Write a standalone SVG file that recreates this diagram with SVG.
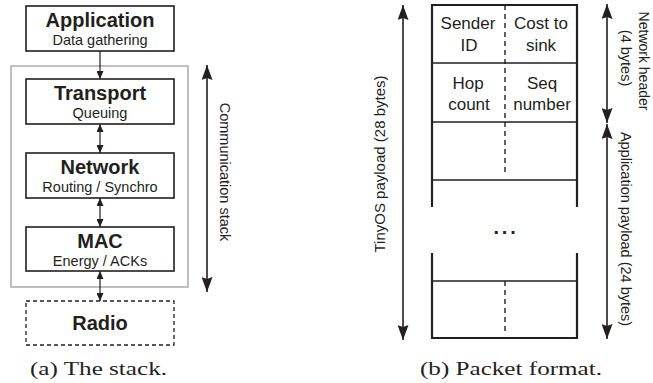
<svg xmlns="http://www.w3.org/2000/svg" width="653" height="383" viewBox="0 0 653 383">
<style>
.box{fill:#fff;stroke:#231f20;stroke-width:1.6}
.dbox{fill:#fff;stroke:#231f20;stroke-width:1.3;stroke-dasharray:4 3}
.frame{fill:none;stroke:#b0b0b0;stroke-width:1.6}
.t{font-family:"Liberation Sans",Arial,sans-serif;fill:#231f20;text-anchor:middle}
.h{font-size:20px;font-weight:bold}
.s{font-size:14.5px}
.p{font-size:17px}
.cap{font-family:"Liberation Serif","Times New Roman",serif;font-size:18px;fill:#231f20}
.sa{stroke:#231f20;stroke-width:1.2;fill:none}
.ba{stroke:#231f20;stroke-width:1.6;fill:none}
.pk{stroke:#231f20;stroke-width:2.2;fill:none}
.row{stroke:#231f20;stroke-width:1.5;fill:none}
.dash{stroke:#231f20;stroke-width:1.4;stroke-dasharray:5 4;fill:none}
</style>
<defs>
<marker id="sm" markerUnits="userSpaceOnUse" markerWidth="8" markerHeight="7" refX="8" refY="3.5" orient="auto-start-reverse">
<path d="M0,0 L8,3.5 L0,7 Z" fill="#231f20"/>
</marker>
<marker id="bg" markerUnits="userSpaceOnUse" markerWidth="15" markerHeight="11" refX="15" refY="5.5" orient="auto-start-reverse">
<path d="M0,0 L15,5.5 L0,11 L2,5.5 Z" fill="#231f20"/>
</marker>
</defs>

<rect class="frame" x="11" y="66" width="177" height="221"/>

<g id="application">
<rect class="box" x="26" y="6" width="148" height="45"/>
<text class="t h" x="100" y="26.5">Application</text>
<text class="t s" x="100" y="45">Data gathering</text>
</g>
<g id="transport">
<rect class="box" x="26" y="79" width="148" height="45"/>
<text class="t h" x="100" y="99.5">Transport</text>
<text class="t s" x="100" y="118">Queuing</text>
</g>
<g id="network">
<rect class="box" x="26" y="153" width="148" height="45"/>
<text class="t h" x="100" y="173.5">Network</text>
<text class="t s" x="100" y="192">Routing / Synchro</text>
</g>
<g id="mac">
<rect class="box" x="26" y="227" width="148" height="44"/>
<text class="t h" x="100" y="247.5">MAC</text>
<text class="t s" x="100" y="266">Energy / ACKs</text>
</g>
<g id="radio">
<rect class="dbox" x="26" y="301" width="148" height="44"/>
<text class="t h" x="100" y="330">Radio</text>
</g>

<g id="connectors">
<line class="sa" x1="100" y1="51" x2="100" y2="79" marker-end="url(#sm)"/>
<line class="sa" x1="100" y1="124" x2="100" y2="153" marker-start="url(#sm)" marker-end="url(#sm)"/>
<line class="sa" x1="100" y1="198" x2="100" y2="227" marker-start="url(#sm)" marker-end="url(#sm)"/>
<line class="sa" x1="100" y1="271" x2="100" y2="301" marker-start="url(#sm)" marker-end="url(#sm)"/>
<line class="ba" x1="207" y1="65" x2="207" y2="292" marker-start="url(#bg)" marker-end="url(#bg)"/>
<line class="ba" x1="403" y1="5" x2="403" y2="340" marker-start="url(#bg)" marker-end="url(#bg)"/>
<line class="ba" x1="607" y1="4" x2="607" y2="123" marker-start="url(#bg)" marker-end="url(#bg)"/>
<line class="ba" x1="607" y1="124" x2="607" y2="339" marker-start="url(#bg)" marker-end="url(#bg)"/>
</g>

<text class="t s" transform="translate(220,172) rotate(90)">Communication stack</text>
<text class="t" style="font-size:15px" transform="translate(385,164) rotate(-90)">TinyOS payload (28 bytes)</text>
<text class="t" style="font-size:14px" transform="translate(639,61) rotate(90)">Network header</text>
<text class="t s" transform="translate(621,58) rotate(90)">(4 bytes)</text>
<text class="t s" transform="translate(621,229) rotate(90)">Application payload (24 bytes)</text>

<g id="packet">
<path class="pk" d="M432,207 V5 H577 V207 M432,253 V338 H577 V253"/>
<path class="row" d="M432,63 H577 M432,122 H577 M432,180 H577 M432,281 H577"/>
<path class="dash" d="M505,5 V173 M505,281 V333"/>
<text class="t p" x="468" y="29">Sender</text>
<text class="t p" x="469" y="51">ID</text>
<text class="t p" x="541" y="29">Cost to</text>
<text class="t p" x="541" y="51">sink</text>
<text class="t p" x="468" y="89">Hop</text>
<text class="t p" x="469" y="110">count</text>
<text class="t p" x="542" y="89">Seq</text>
<text class="t p" x="542" y="110">number</text>
<text class="t" style="font-size:20px;font-weight:bold;letter-spacing:2.8px" x="506" y="234">...</text>
</g>

<text class="cap" x="30" y="375" textLength="137" lengthAdjust="spacingAndGlyphs">(a) The stack.</text>
<text class="cap" x="420" y="375" textLength="182" lengthAdjust="spacingAndGlyphs">(b) Packet format.</text>
</svg>
